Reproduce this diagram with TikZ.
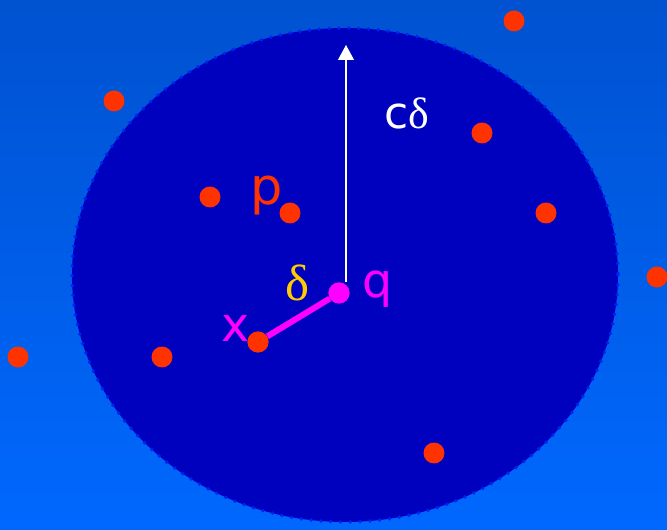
\documentclass[tikz,border=0pt]{standalone}
\usepackage{fontspec}
\setmainfont{DejaVu Sans}
\newfontfamily\grk{Liberation Serif}
\usetikzlibrary{arrows.meta,positioning}
\definecolor{bgtop}{RGB}{0,82,208}
\definecolor{bgbot}{RGB}{0,104,255}
\definecolor{disc}{RGB}{0,0,191}
\definecolor{rim}{RGB}{0,34,250}
\definecolor{ptcol}{RGB}{255,51,0}
\definecolor{qcol}{RGB}{255,0,255}
\definecolor{dcol}{RGB}{255,204,0}
\tikzset{
  pnt/.style={circle,fill=ptcol,inner sep=0pt,minimum size=0.42cm},
  qpnt/.style={circle,fill=qcol,inner sep=0pt,minimum size=0.42cm},
  lbl/.style={inner sep=0pt,font=\fontsize{#1}{#1}\selectfont},
}

\begin{document}
\begin{tikzpicture}[x=0.02cm,y=-0.02cm]
  \shade[top color=bgtop,bottom color=bgbot] (0,0) rectangle (667,530);
  \useasboundingbox (0,0) rectangle (667,530);
  % the disc
  \fill[disc] (345,275) ellipse [x radius=273, y radius=247];
  \draw[rim,line width=2.2pt,line cap=round,dash pattern=on 0pt off 5.6pt] (345,275) ellipse [x radius=273, y radius=247];
  % points
  \node[pnt] (p1) at (514,21) {};
  \node[pnt] (p2) at (114,101) {};
  \node[pnt] (p3) at (482,133) {};
  \node[pnt] (p4) at (210,197) {};
  \node[pnt] (p) at (290,213) {};
  \node[pnt] (p5) at (546,213) {};
  \node[pnt] (p6) at (657,277) {};
  \node[pnt] (p7) at (18,357) {};
  \node[pnt] (p8) at (162,357) {};
  \node[pnt] (x) at (258,342) {};
  \node[pnt] (p9) at (434,453) {};
  \node[qpnt] (q) at (339,293) {};
  \coordinate (top) at (346,45);
  % radius and nearest neighbour
  \draw[white,line width=0.6pt,-{Triangle[width=0.32cm,length=0.3cm]}] (q.north -| top) -- (top);
  \draw[qcol,line width=3.4pt] (q) -- (x);
  \node[pnt] at (x) {};
  \node[qpnt] at (q) {};
  % labels
  \node[lbl=25,white] (cd) at (407,113) {c{\grk δ}};
  \node[lbl=29,ptcol] (plbl) at (267,196) {p};
  \node[lbl=29,dcol] (dlbl) at (298,283) {\grk δ};
  \node[lbl=27,qcol] (qlbl) at (378,289) {q};
  \node[lbl=27,qcol] (xlbl) at (236,329) {x};
\end{tikzpicture}
\end{document}
